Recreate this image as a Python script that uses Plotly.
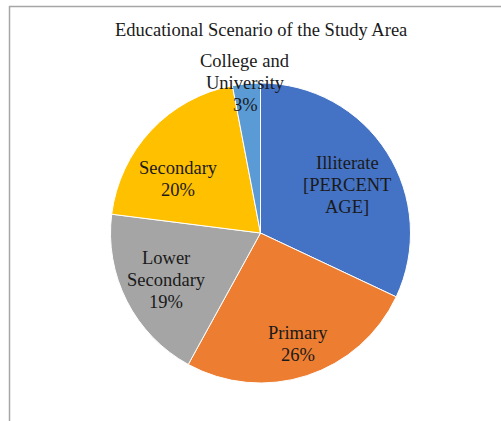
import plotly.graph_objects as go

# ---- data ----
categories = ["Illiterate", "Primary", "Lower Secondary", "Secondary", "College and University"]
values = [32, 26, 19, 20, 3]
label_lines = [
    ["Illiterate", "[PERCENT", "AGE]"],
    ["Primary", "26%"],
    ["Lower", "Secondary", "19%"],
    ["Secondary", "20%"],
    ["College and", "University", "3%"],
]
colors = ["#4472C4", "#ED7D31", "#A5A5A5", "#FFC000", "#5B9BD5"]
title_text = "Educational Scenario of the Study Area"

# ---- layout positions (pixels in 501x421 canvas) ----
W, H = 501, 421
label_px = [(347, 185), (298, 344), (166, 280), (178, 179), (245, 83)]
LINE_H = 22
FONT = "Liberation Serif"

def px(x, y):
    return x / W, 1 - y / H

fig = go.Figure(go.Pie(
    labels=categories,
    values=values,
    sort=False,
    direction="clockwise",
    rotation=0,
    marker=dict(colors=colors, line=dict(color="white", width=1)),
    textinfo="none",
    hoverinfo="label+percent",
    showlegend=False,
    domain=dict(x=[110 / W, 411 / W], y=[1 - 383 / H, 1 - 83 / H]),
))

annotations = []
for lines, (x, y) in zip(label_lines, label_px):
    n = len(lines)
    for i, line in enumerate(lines):
        ax, ay = px(x, y + (i - (n - 1) / 2) * LINE_H)
        annotations.append(dict(
            x=ax, y=ay, xref="paper", yref="paper", text=line, showarrow=False,
            font=dict(family=FONT, size=18.5, color="#1a1a1a"),
            xanchor="center", yanchor="middle", align="center",
        ))

tx, ty = px(261, 30)
annotations.append(dict(
    x=tx, y=ty, xref="paper", yref="paper", text=title_text, showarrow=False,
    font=dict(family=FONT, size=18.5, color="#1a1a1a"),
    xanchor="center", yanchor="middle",
))

shapes = [
    dict(type="line", xref="paper", yref="paper", x0=9 / W, x1=1, y0=1 - 6.5 / H, y1=1 - 6.5 / H,
         line=dict(color="#A6A6A6", width=1.5)),
    dict(type="line", xref="paper", yref="paper", x0=9.5 / W, x1=9.5 / W, y0=0, y1=1 - 6 / H,
         line=dict(color="#A6A6A6", width=1.5)),
]

fig.update_layout(
    width=W, height=H,
    margin=dict(l=0, r=0, t=0, b=0),
    paper_bgcolor="white",
    plot_bgcolor="white",
    annotations=annotations,
    shapes=shapes,
)

fig.write_html("out.html", config={"displayModeBar": False},
               post_script="document.body.style.margin='0';")
